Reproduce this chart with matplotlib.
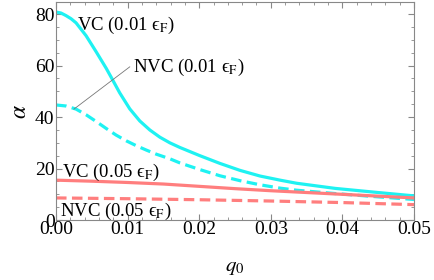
import numpy as np
from matplotlib import pyplot as plt

plt.rcParams['font.family'] = ['Liberation Serif', 'DejaVu Serif']
plt.rcParams['mathtext.fontset'] = 'stix'

# q0 sample points and alpha values
q_vc1 = [0.0, 0.0007, 0.0014, 0.0021, 0.0028, 0.0042, 0.0056, 0.0070, 0.0077, 0.0089, 0.0103, 0.0117,
         0.0131, 0.0145, 0.0159, 0.0173, 0.0187, 0.0201, 0.0229, 0.0257, 0.0285, 0.0313, 0.0336,
         0.0390, 0.0446, 0.0500]
vc1 = [80.8, 80.4, 79.4, 78.2, 76.6, 71.6, 65.4, 59.0, 55.5, 49.4, 43.2, 38.5, 35.0, 32.2, 30.0,
       28.2, 26.6, 25.0, 22.0, 19.3, 17.1, 15.5, 14.3, 12.3, 10.8, 9.4]

q_nvc1 = [0.0, 0.0014, 0.0028, 0.0042, 0.0056, 0.0070, 0.0084, 0.0098, 0.0112, 0.0126, 0.0140,
          0.0159, 0.0173, 0.0201, 0.0229, 0.0257, 0.0285, 0.0313, 0.0336, 0.0390, 0.0446, 0.0500]
nvc1 = [44.7, 44.3, 43.1, 40.9, 38.3, 35.6, 33.0, 30.8, 28.9, 27.2, 25.6, 23.8, 22.2, 19.6, 17.2,
        15.3, 13.7, 12.4, 11.6, 10.3, 9.1, 8.0]

q_vc5 = [0.0, 0.005, 0.010, 0.015, 0.020, 0.025, 0.030, 0.035, 0.040, 0.045, 0.050]
vc5 = [15.5, 15.1, 14.6, 14.0, 13.1, 12.2, 11.4, 10.7, 10.0, 9.3, 8.6]

q_nvc5 = [0.0, 0.010, 0.020, 0.030, 0.040, 0.050]
nvc5 = [8.6, 8.3, 7.9, 7.4, 6.8, 6.0]

cyan = '#1ef2f2'
salmon = '#ff7e7e'

fig = plt.figure(figsize=(4.34, 2.8), dpi=100)
ax = fig.add_axes([0.129, 0.214, 0.825, 0.779])

dash = (0, (3.3, 1.7))
ax.plot(q_vc1, vc1, color=cyan, lw=2.3)
ax.plot(q_nvc1, nvc1, color=cyan, lw=2.3, ls=dash)
ax.plot(q_vc5, vc5, color=salmon, lw=2.3)
ax.plot(q_nvc5, nvc5, color=salmon, lw=2.3, ls=dash)

ax.set_xlim(0, 0.05)
ax.set_ylim(0, 84.7)
ax.set_xticks([0, 0.01, 0.02, 0.03, 0.04, 0.05])
ax.set_xticklabels(['0.00', '0.01', '0.02', '0.03', '0.04', '0.05'])
ax.set_xticks(np.arange(0, 0.0501, 0.002), minor=True)
ax.set_yticks([0, 20, 40, 60, 80])
ax.set_yticks(np.arange(0, 85, 5), minor=True)
ax.tick_params(which='both', direction='in', top=True, right=True, color='#888888', labelsize=14)
ax.tick_params(axis='x', pad=1)
ax.tick_params(axis='y', pad=1)
ax.tick_params(which='major', length=4.5, width=0.8)
ax.tick_params(which='minor', length=2.5, width=0.6)
for s in ax.spines.values():
    s.set_color('#888888')
    s.set_linewidth(0.8)

ax.set_xlabel(r'$q_0$', fontsize=15, labelpad=14)
ax.set_ylabel(r'$\alpha$', fontsize=17, labelpad=3)

fs = 13.5
eps = '\u03f5$_{\\mathrm{F}}$'
ax.text(0.0029, 75.7, 'VC (0.01 ' + eps + ')', fontsize=fs, va='center')
ax.plot([0.00251, 0.0103], [43.1, 59.5], color='#777777', lw=0.6)
ax.text(0.0107, 59.3, 'NVC (0.01 ' + eps + ')', fontsize=fs, va='center')
ax.text(0.0008, 18.6, 'VC (0.05 ' + eps + ')', fontsize=fs, va='center')
ax.text(0.0006, 3.3, 'NVC (0.05 ' + eps + ')', fontsize=fs, va='center')

plt.savefig('out.png', dpi=100)
